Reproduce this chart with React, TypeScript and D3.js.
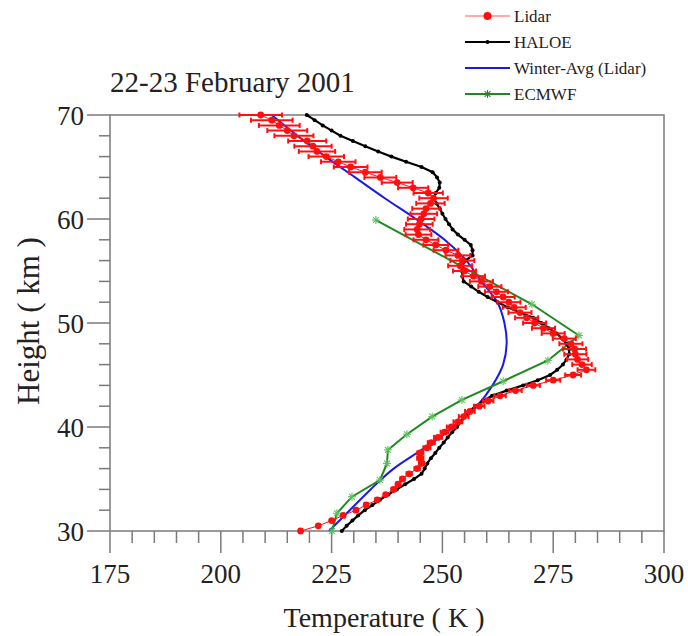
import React from 'react';
import * as d3 from 'd3';

// Lidar (0.5 km grid)
const heights = [30, 30.5, 31, 31.5, 32, 32.5, 33, 33.5, 34, 34.5, 35, 35.5, 36, 36.5, 37, 37.5, 38, 38.5, 39, 39.5,
  40, 40.5, 41, 41.5, 42, 42.5, 43, 43.5, 44, 44.5, 45, 45.5, 46, 46.5, 47, 47.5, 48, 48.5, 49, 49.5,
  50, 50.5, 51, 51.5, 52, 52.5, 53, 53.5, 54, 54.5, 55, 55.5, 56, 56.5, 57, 57.5, 58, 58.5, 59, 59.5,
  60, 60.5, 61, 61.5, 62, 62.5, 63, 63.5, 64, 64.5, 65, 65.5, 66, 66.5, 67, 67.5, 68, 68.5, 69, 69.5, 70];
const lidarT = [218.0, 222.0, 225.0, 227.6, 230.5, 232.8, 235.3, 237.2, 239.0, 240.0, 241.0, 242.5, 244.3, 245.3, 245.0, 245.0, 246.5, 247.5, 249.0, 250.5,
  252.0, 253.5, 254.8, 256.2, 258.3, 260.3, 263.0, 266.5, 270.5, 275.0, 279.5, 282.5, 281.5, 280.5, 280.0, 279.8, 279.0, 277.5, 275.0, 272.8,
  270.8, 269.0, 267.5, 266.2, 265.0, 263.7, 262.2, 260.7, 258.8, 257.0, 255.0, 254.0, 254.5, 253.5, 250.8, 248.5, 246.3, 244.6, 244.3, 244.8,
  245.2, 245.8, 246.3, 247.3, 248.0, 246.8, 243.4, 239.8, 236.0, 232.6, 229.3, 226.5, 223.8, 221.7, 220.8, 219.5, 216.5, 215.0, 213.2, 211.5, 209.0];
const lidarErr = [0.3, 0.3, 0.3, 0.3, 0.4, 0.4, 0.4, 0.4, 0.5, 0.5, 0.5, 0.6, 0.6, 0.6, 0.7, 0.7, 0.8, 0.8, 0.9, 0.9,
  1.0, 1.0, 1.1, 1.1, 1.2, 1.2, 1.3, 1.4, 1.5, 1.6, 1.8, 2.0, 2.2, 2.4, 2.5, 2.6, 2.6, 2.6, 2.6, 2.6,
  2.6, 2.6, 2.6, 2.6, 2.6, 2.6, 2.6, 2.6, 2.6, 2.6, 2.6, 2.7, 2.7, 2.8, 2.8, 2.8, 2.8, 2.9, 2.9, 3.0,
  3.0, 3.0, 3.1, 3.2, 3.2, 3.3, 3.4, 3.5, 3.6, 3.7, 3.8, 3.9, 4.0, 4.1, 4.2, 4.3, 4.4, 4.5, 4.6, 4.7, 4.8];

// HALOE (0.5 km grid)
const haloeT = [227.3, 228.4, 229.7, 231.0, 232.5, 234.2, 235.9, 237.8, 239.7, 241.6, 243.6, 245.3, 246.0, 246.6, 247.4, 248.4, 249.3, 250.3, 251.2, 252.2,
  253.3, 254.2, 255.1, 256.0, 257.5, 259.2, 261.2, 264.5, 268.2, 271.5, 274.3, 275.9, 277.2, 278.0, 278.6, 278.6, 278.0, 277.0, 275.8, 274.0,
  272.3, 270.5, 267.5, 264.8, 262.5, 260.2, 258.2, 256.5, 254.8, 254.5, 254.4, 254.5, 255.2, 256.8, 256.8, 256.4, 255.0, 253.5, 252.3, 251.5,
  250.7, 250.0, 249.4, 248.7, 248.0, 248.5, 249.3, 249.4, 248.8, 247.8, 245.3, 241.8, 238.5, 235.5, 232.6, 229.8, 227.0, 225.0, 223.0, 221.2, 219.4];

// Winter-Avg (Lidar)
const winterH = [30, 32, 34, 36, 38, 40, 42, 44, 46, 48, 50, 52, 54, 56, 58, 60, 62, 64, 66, 68, 70];
const winterT = [224.4, 229.1, 233.8, 239.0, 246.0, 252.5, 257.8, 261.3, 263.7, 264.5, 264.0, 262.4, 258.8, 255.4, 250.5, 244.0, 237.0, 230.3, 223.6, 217.3, 211.5];

// ECMWF
const ecmwfH = [59.9, 51.8, 48.8, 46.4, 44.4, 42.6, 41.0, 39.3, 37.8, 36.5, 34.9, 33.3, 31.7, 30.0];
const ecmwfT = [235.0, 270.2, 280.8, 273.8, 263.7, 254.4, 247.7, 242.0, 237.7, 237.5, 235.9, 229.6, 226.2, 225.1];

const xTicks = [175, 200, 225, 250, 275, 300];
const yTicks = [30, 40, 50, 60, 70];
const xMinor = [180, 185, 190, 195, 205, 210, 215, 220, 230, 235, 240, 245, 255, 260, 265, 270, 280, 285, 290, 295];
const yMinor = [32, 34, 36, 38, 42, 44, 46, 48, 52, 54, 56, 58, 62, 64, 66, 68];

const legendLabels = ['Lidar', 'HALOE', 'Winter-Avg (Lidar)', 'ECMWF'];

const FONT = "'Liberation Serif', 'DejaVu Serif', 'Noto Serif', 'Times New Roman', Times, Tinos, serif";
const RED = '#ff1010';
const BLUE = '#1a1ae6';
const GREEN = '#1e8a1e';
const AXIS = '#7a7a7a';

function Star({ cx, cy, r, color }: { cx: number; cy: number; r: number; color: string }) {
  const d = r * 0.72;
  return (
    <g stroke={color} strokeWidth={1.1}>
      <line x1={cx} y1={cy - r} x2={cx} y2={cy + r} />
      <line x1={cx - r} y1={cy} x2={cx + r} y2={cy} />
      <line x1={cx - d} y1={cy - d} x2={cx + d} y2={cy + d} />
      <line x1={cx - d} y1={cy + d} x2={cx + d} y2={cy - d} />
    </g>
  );
}

export default function App() {
  const W = 688, H = 636;
  const x = d3.scaleLinear().domain([175, 300]).range([110, 664]);
  const y = d3.scaleLinear().domain([30, 70]).range([531, 115]);

  const lidar = heights.map((h, i) => ({ h, t: lidarT[i], e: lidarErr[i] }));
  const haloe = heights.map((h, i) => ({ h, t: haloeT[i] }));
  const winter = winterH.map((h, i) => ({ h, t: winterT[i] }));
  const ecmwf = ecmwfH.map((h, i) => ({ h, t: ecmwfT[i] }));

  const line = d3.line<{ h: number; t: number }>().x(d => x(d.t)).y(d => y(d.h));
  const smooth = d3.line<{ h: number; t: number }>().x(d => x(d.t)).y(d => y(d.h)).curve(d3.curveCatmullRom);

  const [x0, x1] = x.range();
  const [yb, yt] = y.range();

  const legY = [16, 42, 68, 94];
  const legX0 = 465, legX1 = 510, legTx = 514;

  return (
    <div style={{ fontFamily: FONT }}>
    <svg width={W} height={H} fontFamily={FONT} style={{ position: 'absolute', left: 0, top: 0, background: '#fff', fontFamily: FONT }}>
      <rect x={0} y={0} width={W} height={H} fill="#fff" />
      {/* Title */}
      <text x={110} y={92} fontSize={29} fill="#222">22-23 February 2001</text>

      {/* Legend */}
      <g>
        <line x1={legX0} x2={legX1} y1={legY[0]} y2={legY[0]} stroke={RED} strokeWidth={1} strokeOpacity={0.7} />
        <circle cx={(legX0 + legX1) / 2} cy={legY[0]} r={4} fill={RED} />
        <line x1={legX0} x2={legX1} y1={legY[1]} y2={legY[1]} stroke="#000" strokeWidth={2.2} />
        <circle cx={(legX0 + legX1) / 2} cy={legY[1]} r={2} fill="#000" />
        <line x1={legX0} x2={legX1} y1={legY[2]} y2={legY[2]} stroke={BLUE} strokeWidth={2} />
        <line x1={legX0} x2={legX1} y1={legY[3]} y2={legY[3]} stroke={GREEN} strokeWidth={2} />
        <Star cx={(legX0 + legX1) / 2} cy={legY[3]} r={4} color={GREEN} />
        {legendLabels.map((l, i) => (
          <text key={l} x={legTx} y={legY[i] + 6} fontSize={17} fill="#222">{l}</text>
        ))}
      </g>

      {/* Frame */}
      <rect x={x0} y={yt} width={x1 - x0} height={yb - yt} fill="none" stroke={AXIS} strokeWidth={1.5} />

      {/* X ticks */}
      {xTicks.map(t => (
        <g key={'xt' + t}>
          <line x1={x(t)} x2={x(t)} y1={yb} y2={yb + 22} stroke={AXIS} strokeWidth={1.5} />
          <text x={x(t)} y={583} textAnchor="middle" fontSize={27} fill="#222">{t}</text>
        </g>
      ))}
      {xMinor.map(t => (
        <line key={'xm' + t} x1={x(t)} x2={x(t)} y1={yb} y2={yb + 12} stroke={AXIS} strokeWidth={1.5} />
      ))}
      {/* Y ticks */}
      {yTicks.map(t => (
        <g key={'yt' + t}>
          <line x1={x0 - 23} x2={x0} y1={y(t)} y2={y(t)} stroke={AXIS} strokeWidth={1.5} />
          <text x={84} y={y(t) + 10} textAnchor="end" fontSize={27} fill="#222">{t}</text>
        </g>
      ))}
      {yMinor.map(t => (
        <line key={'ym' + t} x1={x0 - 11} x2={x0} y1={y(t)} y2={y(t)} stroke={AXIS} strokeWidth={1.5} />
      ))}

      {/* Axis labels */}
      <text x={384} y={627} textAnchor="middle" fontSize={28} fill="#222">Temperature ( K )</text>
      <text transform={`translate(39,321) rotate(-90)`} textAnchor="middle" fontSize={31} fill="#222">Height ( km )</text>

      {/* Winter-Avg */}
      <path d={smooth(winter) || ''} fill="none" stroke={BLUE} strokeWidth={2} />

      {/* ECMWF */}
      <path d={line(ecmwf) || ''} fill="none" stroke={GREEN} strokeWidth={2} />
      {ecmwf.map((d, i) => (
        <Star key={'ec' + i} cx={x(d.t)} cy={y(d.h)} r={4} color="#5fbf5f" />
      ))}

      {/* HALOE */}
      <path d={line(haloe) || ''} fill="none" stroke="#000" strokeWidth={2.2} />
      {haloe.map((d, i) => (
        <circle key={'ha' + i} cx={x(d.t)} cy={y(d.h)} r={2} fill="#000" />
      ))}

      {/* Lidar */}
      <path d={line(lidar) || ''} fill="none" stroke={RED} strokeWidth={1} />
      {lidar.map((d, i) => (
        <g key={'li' + i} stroke={RED} strokeWidth={2}>
          <line x1={x(d.t - d.e)} x2={x(d.t + d.e)} y1={y(d.h)} y2={y(d.h)} />
          <line x1={x(d.t - d.e)} x2={x(d.t - d.e)} y1={y(d.h) - 2.5} y2={y(d.h) + 2.5} />
          <line x1={x(d.t + d.e)} x2={x(d.t + d.e)} y1={y(d.h) - 2.5} y2={y(d.h) + 2.5} />
        </g>
      ))}
      {lidar.map((d, i) => (
        <circle key={'lc' + i} cx={x(d.t)} cy={y(d.h)} r={3.4} fill={RED} />
      ))}
    </svg>
    </div>
  );
}
